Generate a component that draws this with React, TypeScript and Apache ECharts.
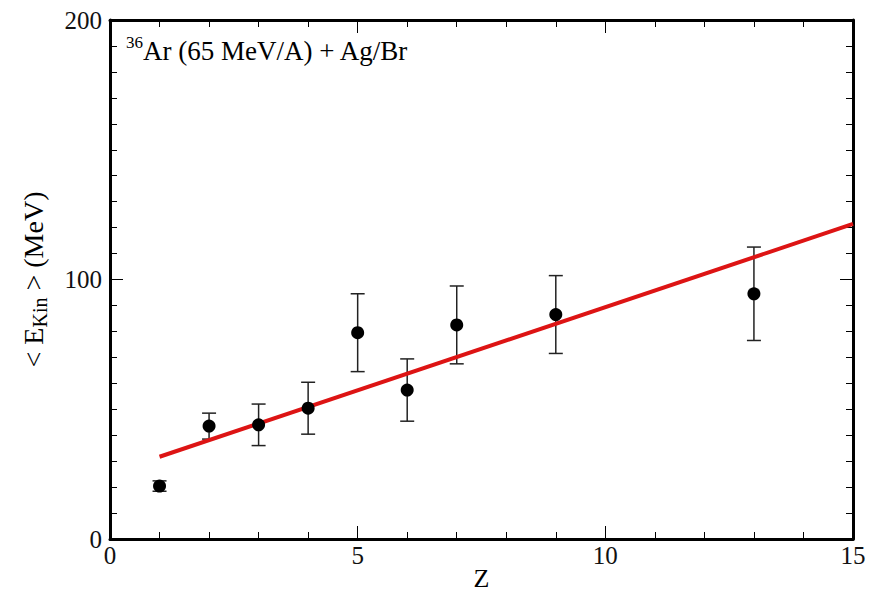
import React, { useEffect, useRef } from "react";
import * as echarts from "echarts";

// Mean kinetic energy per fragment charge
const charges = [1, 2, 3, 4, 5, 6, 7, 9, 13];
const meanEkin = [20.4, 43.5, 44, 50.4, 79.5, 57.4, 82.5, 86.5, 94.5];
const errEkin = [2, 5, 8, 10, 15, 12, 15, 15, 18];

// Linear fit endpoints
const fitZ = [1, 15];
const fitE = [31.7, 121.4];

const SERIF = "Liberation Serif";

export default function App() {
  const ref = useRef<HTMLDivElement>(null);

  useEffect(() => {
    if (!ref.current) return;
    const chart = echarts.init(ref.current, undefined, { renderer: "svg" });

    const xBase = {
      type: "value" as const,
      min: 0,
      max: 15,
      interval: 5,
      axisLine: { show: true, onZero: false, lineStyle: { color: "#000", width: 3 } },
      axisTick: { show: true, inside: true, length: 13, lineStyle: { color: "#000", width: 1 } },
      minorTick: { show: true, splitNumber: 5, length: 7, lineStyle: { color: "#000", width: 1 } },
      splitLine: { show: false },
    };
    const yBase = {
      type: "value" as const,
      min: 0,
      max: 200,
      interval: 100,
      axisLine: { show: true, onZero: false, lineStyle: { color: "#000", width: 3 } },
      axisTick: { show: true, inside: true, length: 13, lineStyle: { color: "#000", width: 1 } },
      minorTick: { show: true, splitNumber: 10, length: 7, lineStyle: { color: "#000", width: 1 } },
      splitLine: { show: false },
    };

    const errData = charges.map((z, i) => [z, meanEkin[i] - errEkin[i], meanEkin[i] + errEkin[i]]);

    chart.setOption({
      animation: false,
      backgroundColor: "#fff",
      textStyle: { fontFamily: SERIF },
      grid: { left: 110, right: 25, top: 20, bottom: 55, outerBoundsMode: "none", containLabel: false },
      xAxis: [
        {
          ...xBase,
          position: "bottom",
          name: "Z",
          nameLocation: "middle",
          nameGap: 26,
          nameMoveOverlap: false,
          nameTextStyle: { fontFamily: SERIF, fontSize: 26, lineHeight: 26, color: "#000" },
          axisLabel: { fontFamily: SERIF, fontSize: 25, color: "#111", margin: 4 },
        },
        { ...xBase, position: "top", axisLabel: { show: false } },
      ],
      yAxis: [
        {
          ...yBase,
          position: "left",
          name: "< E{sub|Kin} > (MeV)",
          nameLocation: "middle",
          nameGap: 60,
          nameMoveOverlap: false,
          nameTextStyle: {
            fontFamily: SERIF,
            fontSize: 28,
            color: "#000",
            rich: {
              sub: { fontFamily: SERIF, fontSize: 20, color: "#000", padding: [14, 0, 0, 0] },
            },
          },
          axisLabel: { fontFamily: SERIF, fontSize: 25, color: "#111", margin: 8 },
        },
        { ...yBase, position: "right", axisLabel: { show: false } },
      ],
      graphic: [
        {
          type: "text",
          left: 126,
          top: 34,
          style: {
            text: "{sup|36}Ar (65 MeV/A) + Ag/Br",
            fontFamily: SERIF,
            fontSize: 27,
            fill: "#000",
            rich: {
              sup: { fontFamily: SERIF, fontSize: 17, fill: "#000", padding: [0, 0, 16, 0] },
            },
          },
        },
      ],
      series: [
        {
          type: "custom",
          xAxisIndex: 0,
          yAxisIndex: 0,
          data: errData,
          renderItem: (_params: any, api: any) => {
            const x = api.value(0);
            const lo = api.coord([x, api.value(1)]);
            const hi = api.coord([x, api.value(2)]);
            const cap = 7;
            const style = { stroke: "#222", lineWidth: 1.5 };
            return {
              type: "group",
              children: [
                { type: "line", shape: { x1: lo[0], y1: lo[1], x2: hi[0], y2: hi[1] }, style },
                { type: "line", shape: { x1: lo[0] - cap, y1: lo[1], x2: lo[0] + cap, y2: lo[1] }, style },
                { type: "line", shape: { x1: hi[0] - cap, y1: hi[1], x2: hi[0] + cap, y2: hi[1] }, style },
              ],
            };
          },
          z: 2,
        },
        {
          type: "line",
          data: fitZ.map((z, i) => [z, fitE[i]]),
          showSymbol: false,
          lineStyle: { color: "#dd1414", width: 4 },
          z: 3,
        },
        {
          type: "scatter",
          data: charges.map((z, i) => [z, meanEkin[i]]),
          symbol: "circle",
          symbolSize: 13,
          itemStyle: { color: "#000", opacity: 1 },
          z: 4,
        },
      ],
    });

    return () => chart.dispose();
  }, []);

  return <div ref={ref} style={{ width: 878, height: 594, position: "absolute", left: 0, top: 0 }} />;
}
